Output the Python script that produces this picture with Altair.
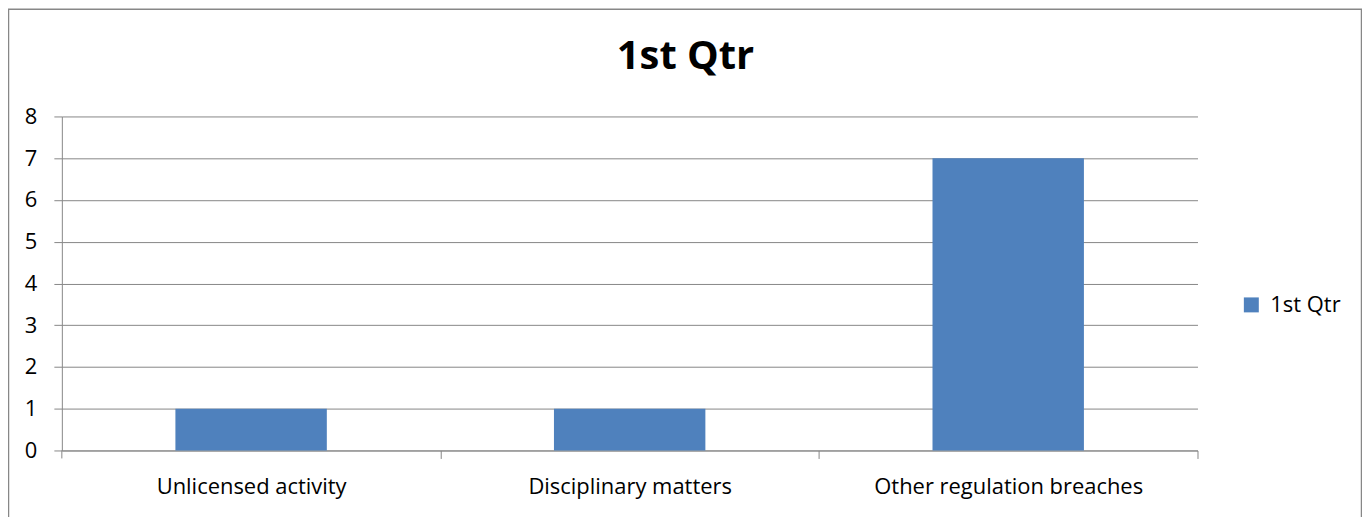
import altair as alt
import pandas as pd

categories = ["Unlicensed activity", "Disciplinary matters", "Other regulation breaches"]
values = [1, 1, 7]
series_name = "1st Qtr"
y_ticks = [0, 1, 2, 3, 4, 5, 6, 7, 8]

W, H = 1139, 335
STEP = W / len(categories)
FONT = "Open Sans"
GRID = "#878787"
BAR = "#4F81BD"

df = pd.DataFrame({"category": categories, "value": values, "series": [series_name] * len(categories)})
one_df = pd.DataFrame({"v": [0]})

bars = alt.Chart(df).mark_bar().encode(
    x=alt.X(
        "category:N",
        sort=categories,
        scale=alt.Scale(paddingInner=0.6, paddingOuter=0.3),
        axis=alt.Axis(
            title=None, labelAngle=0, labelFont=FONT, labelFontSize=22, labelColor="black",
            labelPadding=18, labelLimit=0, ticks=True, tickSize=8,
            tickOffset=STEP / 2, labelOffset=-STEP / 2,
            tickColor=GRID, domainColor=GRID, grid=False,
        ),
    ),
    y=alt.Y(
        "value:Q",
        scale=alt.Scale(domain=[0, 8], nice=False),
        axis=alt.Axis(
            title=None, values=y_ticks, labelFont=FONT, labelFontSize=22, labelColor="black",
            labelPadding=17, tickSize=8, tickColor=GRID, domainColor=GRID,
            grid=True, gridColor=GRID,
        ),
    ),
    color=alt.Color(
        "series:N",
        scale=alt.Scale(domain=[series_name], range=[BAR]),
        legend=alt.Legend(
            title=None, orient="none", legendX=1182, legendY=178, symbolType="square",
            symbolSize=225, symbolStrokeWidth=0, labelFont=FONT, labelFontSize=22,
            labelColor="black", labelOffset=8, padding=0,
        ),
    ),
)

# y-axis line continues below zero, like the category ticks
axis_ext = alt.Chart(one_df).mark_rule(color=GRID, strokeWidth=1).encode(
    x=alt.value(0), y=alt.datum(0), y2=alt.value(H + 8)
)

border = alt.Chart(one_df).mark_rect(filled=False, stroke=GRID, strokeWidth=1.5).encode(
    x=alt.value(-53.5), x2=alt.value(W + 164.5), y=alt.value(-107.5), y2=alt.value(H + 120)
)

chart = alt.layer(border, bars, axis_ext).properties(
    width=W,
    height=H,
    padding={"left": 54, "top": 108, "right": 165, "bottom": 80},
    autosize=alt.AutoSizeParams(type="none"),
    title=alt.TitleParams(
        series_name, font=FONT, fontSize=40, fontWeight="bold", color="black",
        anchor="middle", frame="group", dx=56, dy=109, offset=0, baseline="bottom",
    ),
).configure_view(stroke=None)

chart.save("out.html", embed_options={"renderer": "svg", "actions": False})
